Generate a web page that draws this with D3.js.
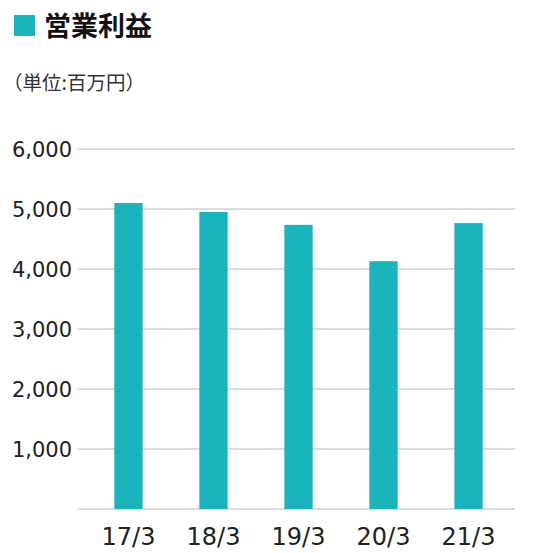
<!DOCTYPE html>
<html>
<head>
<meta charset="utf-8">
<script src="https://cdn.jsdelivr.net/npm/d3@7"></script>
<style>
  html, body { margin: 0; padding: 0; background: #fff; }
  svg { display: block; }
  .title { font-family: "Noto Sans CJK JP", sans-serif; font-weight: 700; font-size: 27px; fill: #111; }
  .unit { font-family: "Noto Sans CJK JP", sans-serif; font-weight: 400; font-size: 19.5px; fill: #333; }
  .ylab { font-family: "DejaVu Sans", sans-serif; font-size: 21px; fill: #222; }
  .xlab { font-family: "DejaVu Sans", sans-serif; font-size: 24px; fill: #222; }
  .grid { stroke: #d0d0d0; stroke-width: 1.5; }
  .bar { fill: #1ab4bd; }
</style>
</head>
<body>
<script>
// data
var categories = ["17/3", "18/3", "19/3", "20/3", "21/3"];
var profit = [5100, 4950, 4735, 4130, 4765];
var yTicks = [0, 1000, 2000, 3000, 4000, 5000, 6000];

var width = 553, height = 553;

var svg = d3.select("body").append("svg")
            .attr("width", width)
            .attr("height", height);

// title block
svg.append("rect")
   .attr("x", 14).attr("y", 15)
   .attr("width", 21).attr("height", 21)
   .attr("class", "bar");

svg.append("text")
   .attr("class", "title")
   .attr("x", 44).attr("y", 36)
   .text("営業利益");

svg.append("text")
   .attr("class", "unit")
   .attr("x", 3).attr("y", 90)
   .text("（単位:百万円）");

// scales
var xScale = d3.scaleBand()
               .domain(categories)
               .range([86, 511])
               .paddingInner(0.667)
               .paddingOuter(0.333);

var yScale = d3.scaleLinear()
               .domain([0, 6000])
               .range([509, 149]);

// gridlines
svg.selectAll("line.grid")
   .data(yTicks)
   .enter()
   .append("line")
   .attr("class", "grid")
   .attr("x1", 78)
   .attr("x2", 515)
   .attr("y1", d => yScale(d))
   .attr("y2", d => yScale(d));

// y labels (no label at zero)
svg.selectAll("text.ylab")
   .data(yTicks.filter(d => d > 0))
   .enter()
   .append("text")
   .attr("class", "ylab")
   .attr("text-anchor", "end")
   .attr("x", 72)
   .attr("y", d => yScale(d) + 8)
   .text(d => d3.format(",")(d));

// bars
svg.selectAll("rect.data")
   .data(profit)
   .enter()
   .append("rect")
   .attr("class", "bar data")
   .attr("x", (d, i) => xScale(categories[i]))
   .attr("width", xScale.bandwidth())
   .attr("y", d => yScale(d))
   .attr("height", d => yScale(0) - yScale(d));

// x labels
svg.selectAll("text.xlab")
   .data(categories)
   .enter()
   .append("text")
   .attr("class", "xlab")
   .attr("text-anchor", "middle")
   .attr("x", d => xScale(d) + xScale.bandwidth() / 2)
   .attr("y", 545)
   .text(d => d);
</script>
</body>
</html>
